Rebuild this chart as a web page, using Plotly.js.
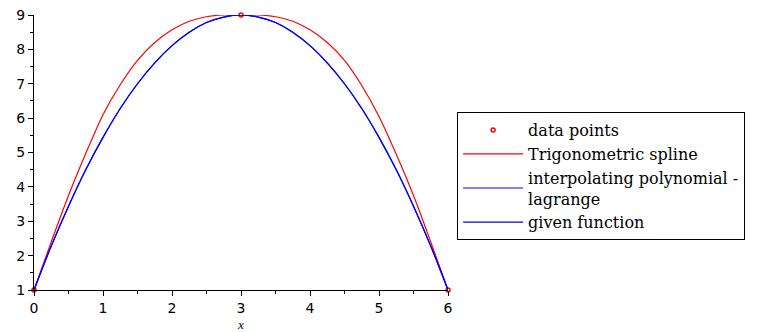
<!DOCTYPE html>
<html>
<head>
<meta charset="utf-8">
<script src="https://cdn.plot.ly/plotly-3.0.1.min.js"></script>
<style>html,body{margin:0;padding:0;background:#fff;overflow:hidden;}#chart{width:781px;height:332px;}</style>
</head>
<body>
<div id="chart"></div>
<script>
// Data
const dataX = [0, 3, 6];
const dataY = [1, 9, 1];

const gridX = [0, 0.25, 0.5, 0.75, 1, 1.25, 1.5, 1.75, 2, 2.25, 2.5, 2.75, 3,
               3.25, 3.5, 3.75, 4, 4.25, 4.5, 4.75, 5, 5.25, 5.5, 5.75, 6];

const trigSplineY = [1, 2.40, 3.75, 4.97, 6.10, 6.97, 7.68, 8.20, 8.57, 8.82, 8.95, 9.0, 9.0,
                     9.0, 8.95, 8.82, 8.57, 8.20, 7.68, 6.95, 6.05, 4.95, 3.75, 2.40, 1];

const lagrangeY = [1, 2.28, 3.44, 4.50, 5.44, 6.28, 7.00, 7.61, 8.11, 8.50, 8.78, 8.94, 9.0,
                   8.94, 8.78, 8.50, 8.11, 7.61, 7.00, 6.28, 5.44, 4.50, 3.44, 2.28, 1];

const givenY = [1, 2.28, 3.44, 4.50, 5.44, 6.28, 7.00, 7.61, 8.11, 8.50, 8.78, 8.94, 9.0,
                8.94, 8.78, 8.50, 8.11, 7.61, 7.00, 6.28, 5.44, 4.50, 3.44, 2.28, 1];

const xTicks = [0, 1, 2, 3, 4, 5, 6];
const yTicks = [1, 2, 3, 4, 5, 6, 7, 8, 9];

const traces = [
  {x: dataX, y: dataY, mode: 'markers', name: 'data points', cliponaxis: false,
   marker: {symbol: 'circle-open', size: 4, color: '#ff0000', line: {width: 1.5, color: '#ff0000'}}},
  {x: gridX, y: trigSplineY, mode: 'lines', name: 'Trigonometric spline',
   line: {color: '#ff0000', width: 1.2, shape: 'spline', smoothing: 0.8}},
  {x: gridX, y: lagrangeY, mode: 'lines', name: 'interpolating polynomial -<br>lagrange',
   line: {color: '#0000ff', width: 1.2, shape: 'spline', smoothing: 0.8}},
  {x: gridX, y: givenY, mode: 'lines', name: 'given function',
   line: {color: '#0000ff', width: 1.2, shape: 'spline', smoothing: 0.8}}
];

const layout = {
  width: 781, height: 332,
  margin: {l: 34, r: 333, t: 15, b: 42, autoexpand: false},
  paper_bgcolor: '#ffffff', plot_bgcolor: '#ffffff',
  showlegend: true,
  legend: {
    x: 1.022, xanchor: 'left', y: 0.647, yanchor: 'top',
    bordercolor: '#000000', borderwidth: 1, bgcolor: '#ffffff',
    font: {family: '"DejaVu Serif", serif', size: 16, color: '#000000'},
    itemwidth: 60,
    tracegroupgap: 0
  },
  xaxis: {
    range: [0, 6], tickvals: xTicks, ticktext: xTicks.map(String),
    showgrid: false, zeroline: false, showline: true, linecolor: '#000', linewidth: 1,
    ticks: 'outside', ticklen: 5, tickcolor: '#000',
    minor: {dtick: 0.5, ticks: 'outside', ticklen: 3, tickcolor: '#000', showgrid: false},
    tickfont: {family: '"DejaVu Sans", sans-serif', size: 14, color: '#000'},
    title: {text: '<i>x</i>', font: {family: '"Liberation Serif", serif', size: 13, color: '#000'}, standoff: 7}
  },
  yaxis: {
    range: [1, 9], tickvals: yTicks, ticktext: yTicks.map(String),
    showgrid: false, zeroline: false, showline: true, linecolor: '#000', linewidth: 1,
    ticks: 'outside', ticklen: 5, tickcolor: '#000',
    minor: {dtick: 0.5, ticks: 'outside', ticklen: 3, tickcolor: '#000', showgrid: false},
    tickfont: {family: '"DejaVu Sans", sans-serif', size: 14, color: '#000'}
  }
};

Plotly.newPlot('chart', traces, layout, {displayModeBar: false, staticPlot: true});
</script>
</body>
</html>
